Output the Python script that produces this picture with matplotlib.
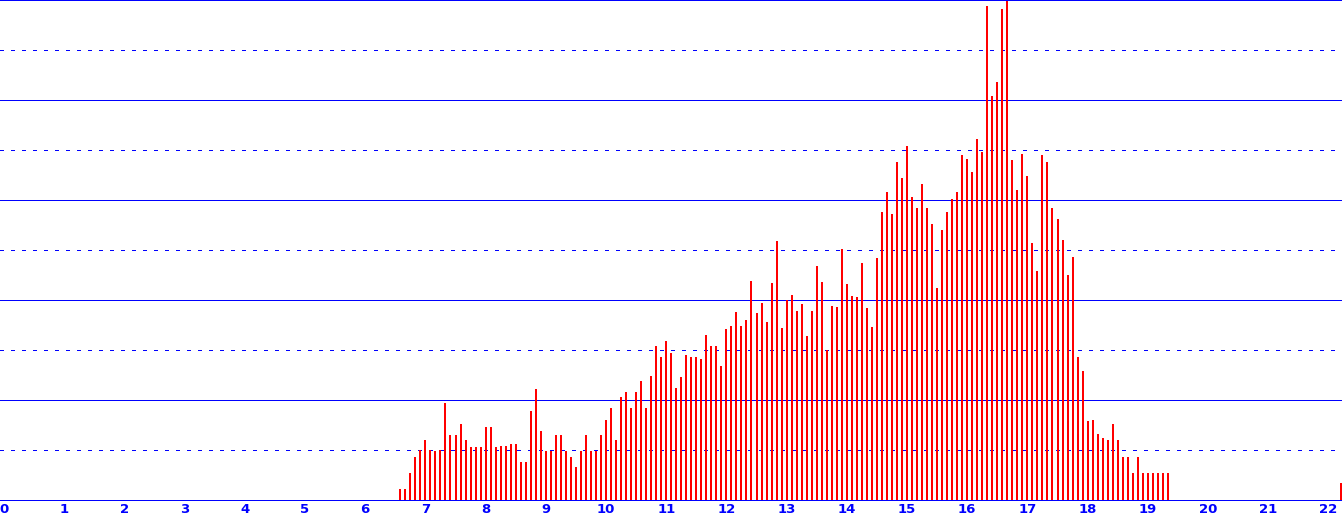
import numpy as np
import matplotlib
matplotlib.use("Agg")
import matplotlib.pyplot as plt

# Monthly bar values (bars at month positions 6 7/12 .. 19 4/12)
values = [
    11, 11, 27, 43, 50, 60, 50, 49, 50, 97, 65, 65, 76, 60, 53, 53, 53, 73, 73, 53,
    54, 54, 56, 56, 38, 38, 89, 111, 69, 49, 49, 65, 65, 49, 43, 33, 49, 65, 49, 49,
    65, 80, 92, 60, 103, 108, 92, 108, 119, 92, 124, 154, 143, 159, 147, 112, 123, 145, 143, 143,
    141, 165, 154, 154, 134, 171, 174, 188, 174, 180, 219, 187, 197, 178, 217, 259, 172, 200, 205, 189,
    196, 164, 189, 234, 218, 150, 194, 193, 251, 216, 204, 203, 237, 192, 173, 242, 288, 308, 286, 338,
    322, 354, 303, 292, 316, 292, 276, 212, 270, 288, 301, 308, 345, 341, 328, 361, 348, 494, 404, 418,
    491, 499, 340, 310, 346, 324, 257, 229, 345, 338, 292, 281, 260, 225, 243, 143, 129, 79, 80, 66,
    62, 60, 76, 60, 43, 43, 27, 43, 27, 27, 27, 27, 27, 27,
]
first_month = 79  # 6 + 7/12
positions = (first_month + np.arange(len(values))) / 12.0

extra_x = [22.21]
extra_values = [17]

tick_values = list(range(0, 23))
tick_labels = [str(t) for t in tick_values]

solid_levels = [0, 100, 200, 300, 400, 500]
dashed_levels = [50, 150, 250, 350, 450]

W, H = 1342, 520
fig = plt.figure(figsize=(W / 100, H / 100), dpi=100)
ax = fig.add_axes([0, 20 / H, 1, 500 / H])

px_per_unit = 60.2
ax.set_xlim(-4 / px_per_unit, (W - 4) / px_per_unit)
ax.set_ylim(0, 500)

for lv in solid_levels:
    ax.axhline(lv, color="#0000ff", lw=0.72, zorder=1, clip_on=False, antialiased=False)
for lv in dashed_levels:
    ax.axhline(lv, color="#0000ff", lw=0.72, dashes=(3, 7), zorder=1, clip_on=False,
               antialiased=False)

bw = 2.0 / px_per_unit
ax.bar(positions, values, width=bw, color="#ff0000", linewidth=0, zorder=2, antialiased=False)
ax.bar(extra_x, extra_values, width=bw, color="#ff0000", linewidth=0, zorder=2, antialiased=False)

for s in ax.spines.values():
    s.set_visible(False)
ax.set_yticks([])
ax.set_xticks(tick_values)
ax.set_xticklabels(tick_labels, fontsize=9.5, color="#0000ff", family="DejaVu Sans",
                   fontweight="bold")
ax.tick_params(axis="x", length=0, pad=2)
ax.set_facecolor("white")
fig.patch.set_facecolor("white")

fig.savefig("out.png", dpi=100, facecolor="white")
